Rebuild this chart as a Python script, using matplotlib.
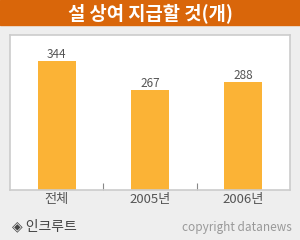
import matplotlib.pyplot as plt

plt.rcParams['font.family'] = ['Noto Sans CJK KR', 'DejaVu Sans']

# 데이터
categories = ['전체', '2005년', '2006년']
values = [344, 267, 288]

title = '설 상여 지급할 것(개)'
source = '◈ 인크루트'
copyright_text = 'copyright datanews'

bar_color = '#FBB336'
bg_color = '#EEEEEE'
title_color = '#D9660A'

fig = plt.figure(figsize=(3, 2.4), dpi=100, facecolor=bg_color)

# 제목 막대
fig.patches.append(plt.Rectangle((0, 1 - 25 / 240), 1, 25 / 240,
                                 transform=fig.transFigure, color=title_color, zorder=0))
fig.text(0.5, 1 - 13 / 240, title, color='white', fontsize=13.5, fontweight='bold',
         ha='center', va='center')

# 그래프 영역
ax = fig.add_axes([10 / 300, 1 - 190 / 240, 280 / 300, 155 / 240])
ax.set_facecolor('white')
x = range(len(categories))
ax.bar(x, values, width=0.41, color=bar_color, zorder=2)
for i, v in zip(x, values):
    ax.text(i, v + 18, str(v), ha='center', va='center', fontsize=8.5, color='#555555')

ax.set_xlim(-0.5, 2.5)
ax.set_ylim(0, 413)
ax.set_yticks([])
ax.set_xticks(list(x))
ax.set_xticklabels(categories, fontsize=9.5, color='#555555')
ax.tick_params(axis='x', length=0, pad=2)
ax.set_xticks([0.5, 1.5], minor=True)
ax.tick_params(axis='x', which='minor', direction='in', length=5, color='#888888', width=0.8)
for s in ax.spines.values():
    s.set_color('#CCCCCC')
    s.set_linewidth(1.2)

fig.text(12 / 300, 1 - 226 / 240, source, fontsize=10, color='#444444', ha='left', va='center')
fig.text(292 / 300, 1 - 228 / 240, copyright_text, fontsize=8.5, color='#999999',
         ha='right', va='center')

fig.savefig('out.png', dpi=100, facecolor=bg_color)
